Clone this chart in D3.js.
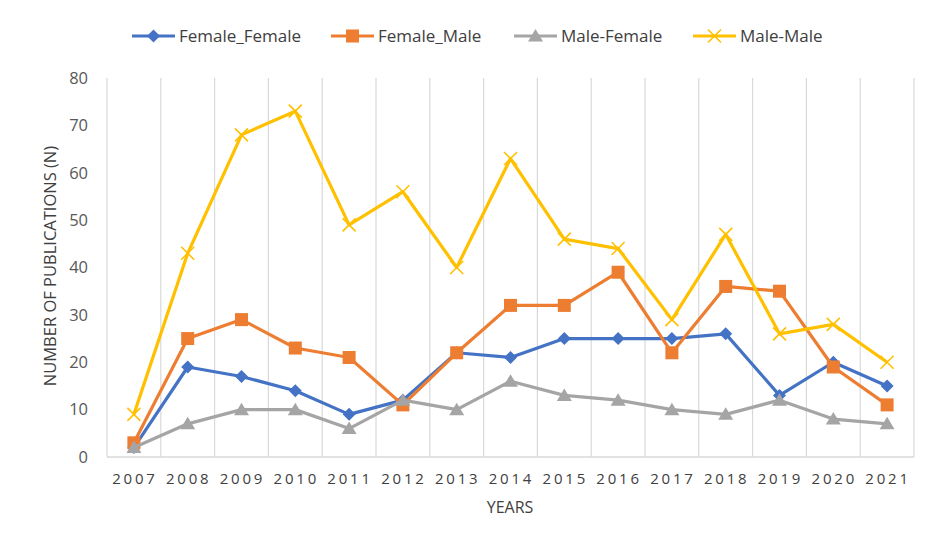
<!DOCTYPE html>
<meta charset="utf-8">
<style>
body { margin: 0; background: #fff; }
text { font-family: "Open Sans", sans-serif; fill: #404040; }
.grid line { stroke: #d9d9d9; stroke-width: 1.2; }
</style>
<svg width="934" height="540"></svg>
<script src="https://d3js.org/d3.v7.min.js"></script>
<script>

var years = ["2007","2008","2009","2010","2011","2012","2013","2014","2015","2016","2017","2018","2019","2020","2021"];
var femaleFemale = [2, 19, 17, 14, 9, 12, 22, 21, 25, 25, 25, 26, 13, 20, 15];
var femaleMale = [3, 25, 29, 23, 21, 11, 22, 32, 32, 39, 22, 36, 35, 19, 11];
var maleFemale = [2, 7, 10, 10, 6, 12, 10, 16, 13, 12, 10, 9, 12, 8, 7];
var maleMale = [9, 43, 68, 73, 49, 56, 40, 63, 46, 44, 29, 47, 26, 28, 20];
var yTicks = [0, 10, 20, 30, 40, 50, 60, 70, 80];

var series = [
  {name: "Female_Female", values: femaleFemale, color: "#4472C4", marker: "diamond"},
  {name: "Female_Male", values: femaleMale, color: "#ED7D31", marker: "square"},
  {name: "Male-Female", values: maleFemale, color: "#A5A5A5", marker: "triangle"},
  {name: "Male-Male", values: maleMale, color: "#FFC000", marker: "cross"}
];

var svg = d3.select("svg"),
    margin = {top: 78, right: 20, bottom: 83, left: 107},
    width = 914 - margin.left,
    height = 457 - margin.top;

var x = d3.scaleBand().domain(years).range([0, width]).padding(0),
    y = d3.scaleLinear().domain([0, 80]).range([height, 0]);

var cx = function(i) { return x(years[i]) + x.bandwidth() / 2; };

var g = svg.append("g")
    .attr("transform", "translate(" + margin.left + "," + margin.top + ")");

// vertical gridlines at band edges
var edges = years.map(function(d) { return x(d); }).concat([width]);
g.append("g").attr("class", "grid")
  .selectAll("line").data(edges).enter().append("line")
    .attr("x1", function(d) { return d; }).attr("x2", function(d) { return d; })
    .attr("y1", 0).attr("y2", height);

g.append("line")
    .attr("x1", 0).attr("x2", width).attr("y1", height).attr("y2", height)
    .attr("stroke", "#d9d9d9").attr("stroke-width", 1.5);

// y tick labels
g.selectAll(".ytick").data(yTicks).enter().append("text")
    .attr("class", "ytick")
    .attr("x", -19).attr("y", function(d) { return y(d); })
    .attr("dy", "0.35em").attr("text-anchor", "end")
    .style("font-size", "16.5px").style("fill", "#595959")
    .text(function(d) { return d; });

// x tick labels
g.selectAll(".xtick").data(years).enter().append("text")
    .attr("class", "xtick")
    .attr("x", function(d, i) { return cx(i) + 1; }).attr("y", height + 27)
    .attr("text-anchor", "middle")
    .style("font-size", "15px").style("letter-spacing", "2.8px").style("fill", "#404040")
    .text(function(d) { return d; });

svg.append("text")
    .attr("transform", "translate(56,266) rotate(-90)")
    .attr("text-anchor", "middle")
    .style("font-size", "16.5px").style("fill", "#404040")
    .text("NUMBER OF PUBLICATIONS (N)");

svg.append("text")
    .attr("x", 510).attr("y", 513)
    .attr("text-anchor", "middle")
    .style("font-size", "16px").style("fill", "#404040")
    .text("YEARS");

function drawMarker(sel, type, color) {
  if (type === "diamond") {
    sel.append("path").attr("d", "M0,-6.5L6.5,0L0,6.5L-6.5,0Z").attr("fill", color);
  } else if (type === "square") {
    sel.append("rect").attr("x", -6.5).attr("y", -6.5).attr("width", 13).attr("height", 13).attr("fill", color);
  } else if (type === "triangle") {
    sel.append("path").attr("d", "M0,-7L7.5,5.5L-7.5,5.5Z").attr("fill", color);
  } else {
    sel.append("path").attr("d", "M-6.5,-6.5L6.5,6.5M6.5,-6.5L-6.5,6.5").attr("stroke", color).attr("stroke-width", 1.6);
  }
}

var line = d3.line()
    .x(function(d, i) { return cx(i); })
    .y(function(d) { return y(d); });

series.forEach(function(s) {
  var sg = g.append("g");
  sg.append("path")
      .datum(s.values)
      .attr("fill", "none")
      .attr("stroke", s.color)
      .attr("stroke-width", 3.2)
      .attr("stroke-linejoin", "round")
      .attr("d", line);
  s.values.forEach(function(v, i) {
    var m = sg.append("g").attr("transform", "translate(" + cx(i) + "," + y(v) + ")");
    drawMarker(m, s.marker, s.color);
  });
});

// legend
var legendX = [132, 331, 514, 693];
var legend = svg.selectAll(".legend").data(series).enter().append("g")
    .attr("class", "legend")
    .attr("transform", function(d, i) { return "translate(" + legendX[i] + ",36)"; });
legend.append("line")
    .attr("x1", 0).attr("x2", 43).attr("y1", 0).attr("y2", 0)
    .attr("stroke", function(d) { return d.color; }).attr("stroke-width", 3.2);
legend.each(function(d) {
  var m = d3.select(this).append("g").attr("transform", "translate(21.5,0)");
  drawMarker(m, d.marker, d.color);
});
legend.append("text")
    .attr("x", 47).attr("y", 0).attr("dy", "0.35em")
    .style("font-size", "17px")
    .text(function(d) { return d.name; });

</script>
